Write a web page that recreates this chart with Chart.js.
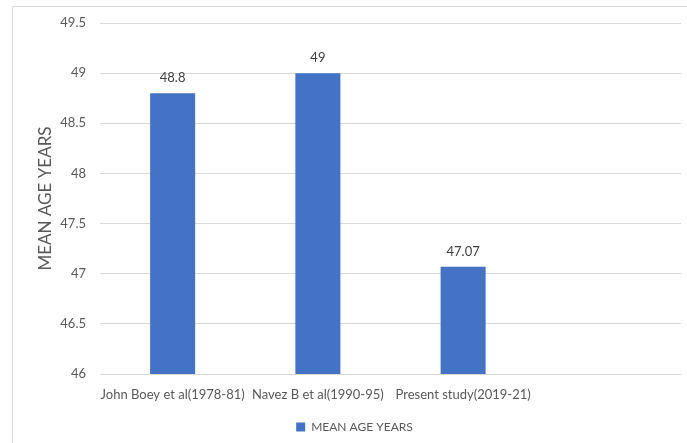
<!DOCTYPE html>
<html>
<head>
<meta charset="utf-8">
<script src="https://cdn.jsdelivr.net/npm/chart.js@4/dist/chart.umd.min.js"></script>
<style>
  html, body { margin: 0; padding: 0; background: #ffffff; }
  #wrap { position: relative; width: 687px; height: 443px; }
</style>
</head>
<body>
<div id="wrap"><canvas id="chart" width="687" height="443"></canvas></div>
<script>
// Studies compared, with a trailing empty slot on the category axis
const categories = ["John Boey et al(1978-81)", "Navez B et al(1990-95)", "Present study(2019-21)", ""];
// Mean age in years for each study
const meanAgeYears = [48.8, 49, 47.07, null];
const seriesName = "MEAN AGE YEARS";
const yAxisTitle = "MEAN AGE YEARS";
const yMin = 46, yMax = 49.5, yStep = 0.5;

const textColor = "#595959";
const gridColor = "#d9d9d9";
const barColor = "#4472C4";
const fontFamily = "Lato, 'Liberation Sans', sans-serif";

// Frame around the chart area (only its left and top edges fall inside the canvas)
const framePlugin = {
  id: "frame",
  beforeDraw(chart) {
    const ctx = chart.ctx;
    ctx.save();
    ctx.strokeStyle = gridColor;
    ctx.lineWidth = 1;
    ctx.beginPath();
    ctx.moveTo(12.5, chart.height);
    ctx.lineTo(12.5, 6.5);
    ctx.lineTo(chart.width, 6.5);
    ctx.stroke();
    ctx.restore();
  }
};

// Value labels above each bar
const valueLabels = {
  id: "valueLabels",
  afterDatasetsDraw(chart) {
    const ctx = chart.ctx;
    const meta = chart.getDatasetMeta(0);
    const data = chart.data.datasets[0].data;
    ctx.save();
    ctx.fillStyle = "#404040";
    ctx.font = "13px " + fontFamily;
    ctx.textAlign = "center";
    ctx.textBaseline = "middle";
    meta.data.forEach((bar, i) => {
      if (data[i] == null) return;
      ctx.fillText(String(data[i]), bar.x, bar.y - 15);
    });
    ctx.restore();
  }
};

new Chart(document.getElementById("chart"), {
  type: "bar",
  data: {
    labels: categories,
    datasets: [{
      label: seriesName,
      data: meanAgeYears,
      backgroundColor: barColor,
      borderWidth: 0,
      categoryPercentage: 1,
      barPercentage: 0.31
    }]
  },
  options: {
    responsive: false,
    animation: false,
    layout: { padding: { left: 28, right: 6, top: 23, bottom: 0 } },
    plugins: {
      legend: {
        position: "bottom",
        labels: {
          color: textColor,
          font: { family: fontFamily, size: 12 },
          boxWidth: 9,
          boxHeight: 9,
          padding: 7
        }
      },
      tooltip: { enabled: false }
    },
    scales: {
      x: {
        afterFit(scale) { scale.height = 40; },
        grid: { display: false, drawTicks: false },
        border: { display: false },
        ticks: {
          color: textColor,
          font: { family: fontFamily, size: 13 },
          padding: 13,
          maxRotation: 0,
          autoSkip: false
        }
      },
      y: {
        min: yMin,
        max: yMax,
        afterFit(scale) { scale.width = 72; },
        grid: { color: gridColor, lineWidth: 1, drawTicks: false },
        border: { display: false },
        ticks: {
          stepSize: yStep,
          color: textColor,
          font: { family: fontFamily, size: 13 },
          padding: 14,
          callback: (v) => String(v)
        },
        title: {
          display: true,
          text: yAxisTitle,
          color: textColor,
          font: { family: fontFamily, size: 17 },
          padding: { top: 7, bottom: 0 }
        }
      }
    }
  },
  plugins: [framePlugin, valueLabels]
});
</script>
</body>
</html>
